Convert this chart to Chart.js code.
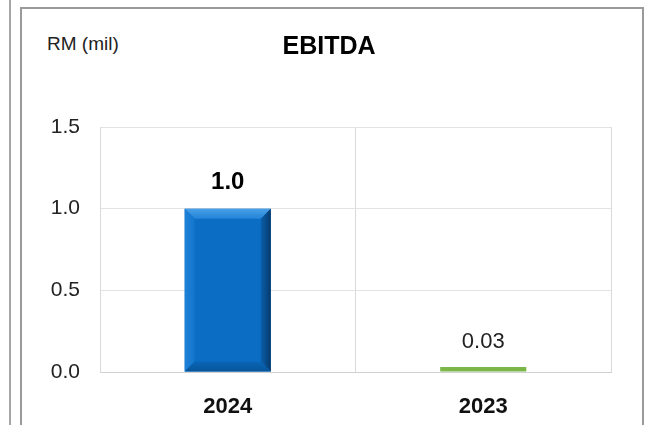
<!DOCTYPE html>
<html>
<head>
<meta charset="utf-8">
<script src="https://cdn.jsdelivr.net/npm/chart.js@4/dist/chart.umd.min.js"></script>
<style>
  body { margin: 0; background: #fff; }
  #wrap { position: relative; width: 648px; height: 425px; overflow: hidden; }
  #sideLine { position: absolute; left: 9px; top: 0; width: 2px; height: 425px; background: #a6a6a6; }
  #frame { position: absolute; left: 20px; top: 7px; width: 620px; height: 440px;
           border: 2px solid #9a9a9a; border-bottom: none; }
  #unit { position: absolute; left: 47px; top: 33px; font: 19px "Liberation Sans", Arial, sans-serif; color: #222; }
  canvas { position: absolute; left: 0; top: 0; }
</style>
</head>
<body>
<div id="wrap">
  <div id="sideLine"></div>
  <div id="frame"></div>
  <div id="unit">RM (mil)</div>
  <canvas id="ebitdaChart" width="648" height="425"></canvas>
</div>
<script>
var years = ['2024', '2023'];
var ebitda = [1.0, 0.03];
var barColors = ['#0b6dc3', '#7ab648'];
var yTicks = [0, 0.5, 1.0, 1.5];

var FONT = '"Liberation Sans", Arial, sans-serif';

// bevelled look on the tall bars
var bevelPlugin = {
    id: 'bevel',
    afterDatasetsDraw: function(chart) {
        var ctx = chart.ctx;
        chart.getDatasetMeta(0).data.forEach(function(bar) {
            var left = bar.x - bar.width / 2, right = bar.x + bar.width / 2;
            var top = bar.y, bottom = bar.base;
            var b = 10;
            if (bottom - top < b * 3) return;
            ctx.save();
            function face(pts, fill) {
                ctx.beginPath();
                ctx.moveTo(pts[0][0], pts[0][1]);
                for (var i = 1; i < pts.length; i++) ctx.lineTo(pts[i][0], pts[i][1]);
                ctx.closePath();
                ctx.fillStyle = fill;
                ctx.fill();
            }
            var gTop = ctx.createLinearGradient(0, top, 0, top + b);
            gTop.addColorStop(0, '#4aa0e8');
            gTop.addColorStop(1, '#2384d8');
            var gLeft = ctx.createLinearGradient(left, 0, left + b, 0);
            gLeft.addColorStop(0, '#1f82d8');
            gLeft.addColorStop(1, '#1276cc');
            var gRight = ctx.createLinearGradient(right - b, 0, right, 0);
            gRight.addColorStop(0, '#0a5fab');
            gRight.addColorStop(1, '#053a6c');
            var gBottom = ctx.createLinearGradient(0, bottom - b, 0, bottom);
            gBottom.addColorStop(0, '#0a66b7');
            gBottom.addColorStop(1, '#07559a');
            face([[left, top], [right, top], [right - b, top + b], [left + b, top + b]], gTop);
            face([[left, top], [left + b, top + b], [left + b, bottom - b], [left, bottom]], gLeft);
            face([[right, top], [right, bottom], [right - b, bottom - b], [right - b, top + b]], gRight);
            face([[left, bottom], [left + b, bottom - b], [right - b, bottom - b], [right, bottom]], gBottom);
            ctx.restore();
        });
    }
};

// value labels above the bars
var valueLabels = {
    id: 'valueLabels',
    afterDatasetsDraw: function(chart) {
        var ctx = chart.ctx;
        var ds = chart.data.datasets[0];
        chart.getDatasetMeta(0).data.forEach(function(bar, i) {
            var v = ds.data[i];
            var big = v >= 0.1;
            ctx.save();
            ctx.font = (big ? 'bold 24px ' : '22px ') + FONT;
            ctx.fillStyle = big ? '#000' : '#222';
            ctx.textAlign = 'center';
            ctx.textBaseline = 'middle';
            ctx.fillText(big ? v.toFixed(1) : v.toFixed(2), bar.x, bar.y - (big ? 26 : 25));
            ctx.restore();
        });
    }
};

new Chart(document.getElementById('ebitdaChart'), {
    type: 'bar',
    data: {
        labels: years,
        datasets: [{
            data: ebitda,
            backgroundColor: barColors,
            borderWidth: 0,
            barPercentage: 0.337,
            categoryPercentage: 1
        }]
    },
    options: {
        responsive: false,
        animation: false,
        layout: { padding: { left: 47, right: 37, top: 0, bottom: 0 } },
        scales: {
            x: {
                afterFit: function(s) { s.height = 53; },
                grid: { color: '#d9d9d9', drawTicks: false },
                border: { color: '#d0d0d0' },
                ticks: { padding: 22, color: '#111', font: { family: FONT, size: 22, weight: 'bold' } }
            },
            y: {
                min: 0,
                max: 1.5,
                afterFit: function(s) { s.width = 53; },
                afterBuildTicks: function(s) { s.ticks = yTicks.map(function(v) { return { value: v }; }); },
                grid: { color: '#e3e3e3', drawTicks: false },
                border: { color: '#d9d9d9' },
                ticks: {
                    padding: 20,
                    color: '#222',
                    font: { family: FONT, size: 21 },
                    callback: function(v) { return v.toFixed(1); }
                }
            }
        },
        plugins: {
            legend: { display: false },
            tooltip: { enabled: false },
            title: {
                display: true,
                text: 'EBITDA',
                color: '#000',
                font: { family: FONT, size: 25, weight: 'bold' },
                padding: { top: 32, bottom: 65 }
            }
        }
    },
    plugins: [bevelPlugin, valueLabels]
});
</script>
</body>
</html>
